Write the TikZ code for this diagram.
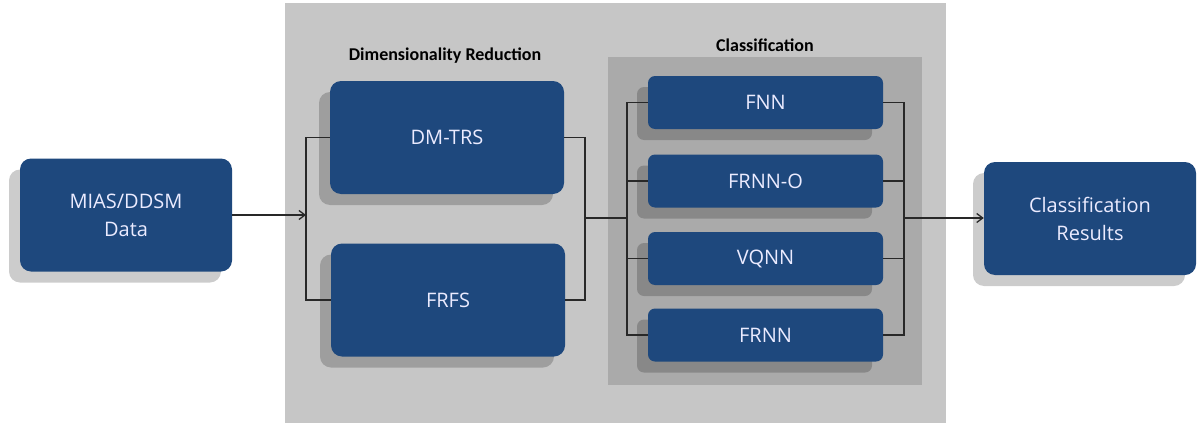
\documentclass[tikz,border=0pt]{standalone}
\usepackage{fontspec}
\setmainfont{Open Sans}
\newfontfamily\labfont{Carlito}
\usetikzlibrary{arrows.meta,shadows}
\definecolor{boxblue}{RGB}{30,72,125}
\definecolor{outergray}{RGB}{198,198,198}
\definecolor{innergray}{RGB}{170,170,170}
\definecolor{linegray}{RGB}{40,40,40}
\begin{document}
\begin{tikzpicture}[x=1pt,y=-1pt,
  blk/.style={draw=none,fill=boxblue,rounded corners=11pt,text=white!92!blue,
    font=\fontsize{20}{28}\selectfont,align=center,inner sep=0pt,
    drop shadow={shadow xshift=-11pt,shadow yshift=-11pt,fill=black,opacity=0.2}},
  bigblk/.style={blk,minimum width=234pt,minimum height=113pt},
  endblk/.style={blk,minimum width=212pt,minimum height=113pt},
  smallblk/.style={blk,rounded corners=7pt,minimum width=235pt,minimum height=53pt},
  conn/.style={draw=linegray,line width=1.3pt},
  arr/.style={conn,-{Straight Barb[length=6pt,width=9pt]}},
  lab/.style={font=\labfont\bfseries\fontsize{18}{20}\selectfont,text=black}]
\useasboundingbox (0,0) rectangle (1204,423);
\fill[white] (0,0) rectangle (1204,423);
% panels
\fill[outergray] (285,3) rectangle (946,423);
\fill[innergray] (608,57) rectangle (922,385);
\node[lab] (dimlab) at (445,56) {Dimensionality Reduction};
\node[lab] (clslab) at (765,45) {Classification};
% blocks
\node[endblk] (mias) at (126,215) {MIAS/DDSM\\Data};
\node[bigblk] (dm) at (447,137.5) {DM-TRS};
\node[bigblk] (frfs) at (448,300) {FRFS};
\node[smallblk] (fnn) at (765.5,102.5) {FNN};
\node[smallblk] (frnno) at (765.5,181) {FRNN-O};
\node[smallblk] (vqnn) at (765.5,258.5) {VQNN};
\node[smallblk] (frnn) at (765.5,335) {FRNN};
\node[endblk] (res) at (1090,218.5) {Classification\\Results};
% junction points
\coordinate (bl) at (306,218);
\coordinate (br) at (585,218);
\coordinate (cl) at (627,218);
\coordinate (cr) at (904,218);
% connectors
\draw[arr] (mias.east) -- (mias.east -| bl);
\draw[conn] (dm.west) -| (bl) |- (frfs.west);
\draw[conn] (dm.east) -| (br) |- (frfs.east);
\draw[conn] (br) -- (cl);
\draw[conn] (fnn.west) -| (cl) |- (frnn.west);
\draw[conn] (frnno.west) -| (cl);
\draw[conn] (vqnn.west) -| (cl);
\draw[conn] (fnn.east) -| (cr) |- (frnn.east);
\draw[conn] (frnno.east) -| (cr);
\draw[conn] (vqnn.east) -| (cr);
\draw[arr] (cr) -- (res.west |- cr);
\end{tikzpicture}
\end{document}
